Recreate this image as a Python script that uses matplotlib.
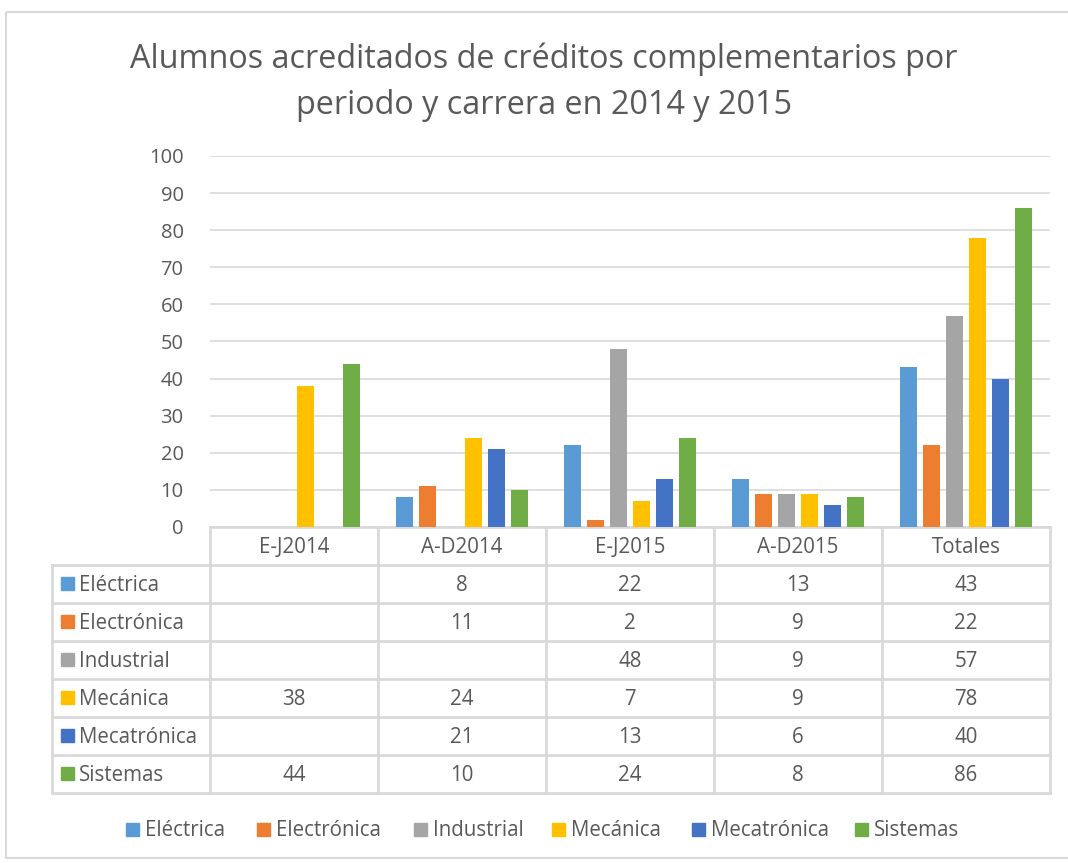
import matplotlib
matplotlib.use("Agg")
import matplotlib.pyplot as plt
import numpy as np

periods = ["E-J2014", "A-D2014", "E-J2015", "A-D2015", "Totales"]
careers = ["Eléctrica", "Electrónica", "Industrial", "Mecánica", "Mecatrónica", "Sistemas"]
electrica   = [None, 8, 22, 13, 43]
electronica = [None, 11, 2, 9, 22]
industrial  = [None, None, 48, 9, 57]
mecanica    = [38, 24, 7, 9, 78]
mecatronica = [None, 21, 13, 6, 40]
sistemas    = [44, 10, 24, 8, 86]
series = [electrica, electronica, industrial, mecanica, mecatronica, sistemas]
colors = ["#5B9BD5", "#ED7D31", "#A5A5A5", "#FFC000", "#4472C4", "#70AD47"]
yticks = list(range(0, 101, 10))
title = "Alumnos acreditados de créditos complementarios por\nperiodo y carrera en 2014 y 2015"

W, H = 1068, 863
fig = plt.figure(figsize=(W / 100, H / 100), dpi=100)
plt.rcParams['font.family'] = ['Open Sans', 'DejaVu Sans']
txt = "#595959"
grid = "#D9D9D9"
fs = 14.8

# overlay axes in pixel coords
ov = fig.add_axes([0, 0, 1, 1])
ov.set_xlim(0, W)
ov.set_ylim(H, 0)
ov.axis("off")

# plot area
left, right, top, bottom = 210, 1050, 156, 527
ax = fig.add_axes([left / W, (H - bottom) / H, (right - left) / W, (bottom - top) / H])
ax.set_xlim(0, len(periods))
ax.set_ylim(0, 100)
ax.set_yticks(yticks)
ax.yaxis.grid(True, color=grid, linewidth=1.2)
ax.set_axisbelow(True)
for s in ax.spines.values():
    s.set_visible(False)
ax.tick_params(axis="y", length=0, labelsize=14.5, labelcolor=txt, pad=19)
ax.tick_params(axis="x", length=0, labelbottom=False)
ax.patch.set_alpha(0)

step = 23 / 168
bw = 17 / 168
x = np.arange(len(periods)) + 0.5
for i, (vals, c) in enumerate(zip(series, colors)):
    v = np.array([np.nan if a is None else a for a in vals], dtype=float)
    ax.bar(x + (i - 2.5) * step, v, width=bw, color=c, zorder=3)

# outer border
ov.add_patch(plt.Rectangle((6, 12), W + 10, 846, fill=False, edgecolor="#D9D9D9", linewidth=1.5))

# title
ov.text(544, 82, title, ha="center", va="center", fontsize=23.3, color=txt, linespacing=1.5)

# data table
col_edges = [210 + 168 * k for k in range(len(periods) + 1)]
row_h = 38
hdr_top, hdr_bot = 527, 565
row_edges = [hdr_bot + row_h * k for k in range(len(careers) + 1)]
lc = "#D9D9D9"
lw = 2.0
ov.plot([col_edges[0], col_edges[-1]], [hdr_top, hdr_top], color=lc, lw=lw)
for ce in col_edges:
    ov.plot([ce, ce], [hdr_top, row_edges[-1]], color=lc, lw=lw)
ov.plot([52, 52], [hdr_bot, row_edges[-1]], color=lc, lw=lw)
for re in row_edges:
    ov.plot([52, col_edges[-1]], [re, re], color=lc, lw=lw)

for k, p in enumerate(periods):
    ov.text((col_edges[k] + col_edges[k + 1]) / 2, (hdr_top + hdr_bot) / 2 + 1, p,
            ha="center", va="center", fontsize=fs, color=txt)
for r, (name, vals, c) in enumerate(zip(careers, series, colors)):
    yc = (row_edges[r] + row_edges[r + 1]) / 2
    ov.add_patch(plt.Rectangle((61, yc - 7), 13, 13, color=c))
    ov.text(79, yc + 1, name, ha="left", va="center", fontsize=fs, color=txt)
    for k, v in enumerate(vals):
        if v is not None:
            ov.text((col_edges[k] + col_edges[k + 1]) / 2, yc + 1, str(v),
                    ha="center", va="center", fontsize=fs, color=txt)

# legend
leg_x = [126, 257, 414, 552, 692, 855]
ly = 829
for name, c, lx in zip(careers, colors, leg_x):
    ov.add_patch(plt.Rectangle((lx, ly - 6), 13, 13, color=c))
    ov.text(lx + 19, ly + 1, name, ha="left", va="center", fontsize=fs, color=txt)

fig.savefig("out.png", dpi=100)
